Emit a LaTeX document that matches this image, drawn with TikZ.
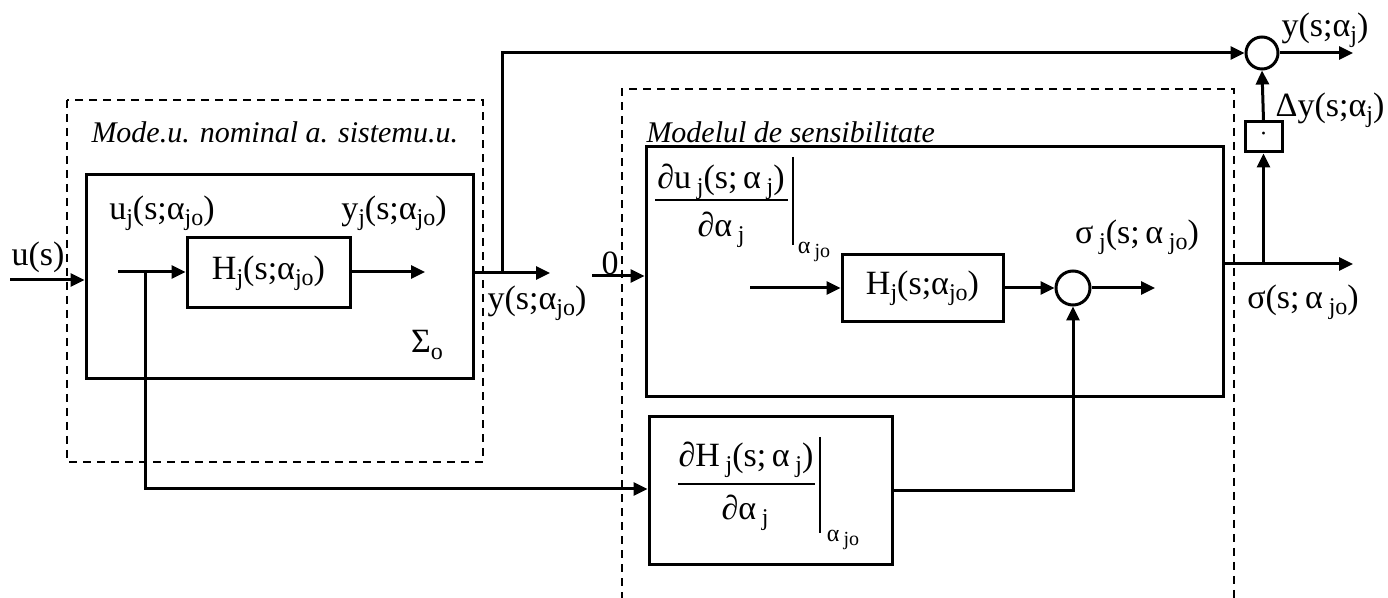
\documentclass[tikz,border=0pt]{standalone}
\usepackage{fontspec}
\setmainfont{Liberation Serif}
\usetikzlibrary{arrows.meta}
\newcommand\lo[1]{\raisebox{-0.4ex}{\fontsize{12}{12}\selectfont #1}}
\newcommand\los[1]{\raisebox{-0.4ex}{\fontsize{10}{10}\selectfont #1}}
\begin{document}
\begin{tikzpicture}[x=0.5pt,y=-0.5pt,
  line width=1.5pt,
  blk/.style={draw,inner sep=0pt,line width=1.5pt},
  sumc/.style={draw,circle,inner sep=0pt,minimum size=16pt,line width=1.5pt},
  lbl/.style={inner sep=0pt,font=\fontsize{17}{19}\selectfont},
  sml/.style={inner sep=0pt,font=\fontsize{12}{12}\selectfont},
  ttl/.style={inner sep=0pt,anchor=west,font=\fontsize{15}{18}\selectfont\itshape},
  dsh/.style={line width=1.3pt,dash pattern=on 4pt off 3pt},
  arr/.style={-{Triangle[length=7pt,width=6.5pt]}},
  ]
\useasboundingbox (0,0) rectangle (1388,598);
\fill[white] (0,0) rectangle (1388,598);

% dashed frames
\draw[dsh] (67,100) rectangle (483,462);
\draw[dsh] (622,600) -- (622,89) -- (1234,89) -- (1234,600);

% blocks
\node[blk,minimum width=193.5pt,minimum height=102pt] (S0) at (279.5,277) {};
\node[blk,lbl,minimum width=81.5pt,minimum height=35pt] (H1) at (268.5,273) {H\lo{j}(s;α\lo{jo})};
\node[blk,minimum width=288.5pt,minimum height=125pt] (S1) at (934.5,272) {};
\node[blk,lbl,minimum width=80.5pt,minimum height=33.5pt] (H2) at (922.5,288) {H\lo{j}(s;α\lo{jo})};
\node[sumc,minimum size=17pt] (C1) at (1073,288) {};
\node[blk,minimum width=121.5pt,minimum height=74pt] (DH) at (770.5,491) {};
\node[sumc] (C2) at (1262,53) {};
\node[blk,sml,minimum width=18.5pt,minimum height=15pt] (D) at (1263.5,137) {·};

% connectors
\coordinate (uin) at (10,280);
\draw[arr] (uin) -- (uin -| S0.west);
\coordinate (a1) at (118,272);
\draw[arr] (a1) -- (a1 -| H1.west);
\coordinate (a2) at (425,272);
\draw[arr] (a2 -| H1.east) -- (a2);
\coordinate (b1) at (145,272);
\coordinate (b2) at (145,489);
\draw[arr] (b1) -- (b2) -- (b2 -| DH.west);

\coordinate (o1) at (550,273);
\draw[arr] (o1 -| S0.east) -- (o1);
\coordinate (o2) at (502,273);
\coordinate (o3) at (502,53);
\draw[arr] (o2) -- (o3) -- (C2.west);
\coordinate (o4) at (1353,53);
\draw[arr] (C2.east) -- (o4);
\draw[arr] (D.north) -- (C2.south);

\coordinate (s1) at (1353,264);
\draw[arr] (s1 -| S1.east) -- (s1);
\coordinate (s2) at (1263.5,264);
\draw[arr] (s2) -- (D.south);

\coordinate (z) at (592,276);
\draw[arr] (z) -- (z -| S1.west);
\coordinate (h2in) at (750,288);
\draw[arr] (h2in) -- (H2.west);
\draw[arr] (H2.east) -- (C1.west);
\coordinate (c1o) at (1155,288);
\draw[arr] (C1.east) -- (c1o);
\draw[arr] (DH.east) -- (DH.east -| C1) -- (C1.south);

% labels
\node[lbl] (lu) at (38,257) {u(s)};
\node[lbl] (luj) at (162,213) {u\lo{j}(s;α\lo{jo})};
\node[lbl] (lyj) at (394,213) {y\lo{j}(s;α\lo{jo})};
\node[lbl] (lsig) at (427,345) {Σ\lo{o}};
\node[lbl] (ly) at (537,303) {y(s;α\lo{jo})};
\node[lbl] (l0) at (610,263) {0};
\node[ttl] (t1) at (90,132) {Mode.u. nominal a. sistemu.u.};
\node[ttl] (t2) at (645,132) {Modelul de sensibilitate};
\node[lbl] (lsj) at (1137,237) {σ\,\lo{j}(s;\,α\,\lo{jo})};
\node[lbl] (ls) at (1303,302) {σ(s;\,α\,\lo{jo})};
\node[lbl] (lyo) at (1325,30) {y(s;α\lo{j})};
\node[lbl] (ldy) at (1330,110) {Δy(s;α\lo{j})};

% derivative of u_j
\node[lbl] (n1) at (721,182) {∂u\,\lo{j}(s;\,α\,\lo{j})};
\draw[line width=1pt] (655,200) -- (788,200);
\node[lbl] (d1) at (721,230) {∂α\,\lo{j}};
\draw[line width=1pt] (793,157) -- (793,245);
\node[sml] (e1) at (814,252) {α\,\los{jo}};

% derivative of H_j
\node[lbl] (n2) at (746,460) {∂H\,\lo{j}(s;\,α\,\lo{j})};
\draw[line width=1pt] (678,484) -- (815,484);
\node[lbl] (d2) at (745,513) {∂α\,\lo{j}};
\draw[line width=1pt] (820,437) -- (820,533);
\node[sml] (e2) at (843,540) {α\,\los{jo}};
\end{tikzpicture}
\end{document}
